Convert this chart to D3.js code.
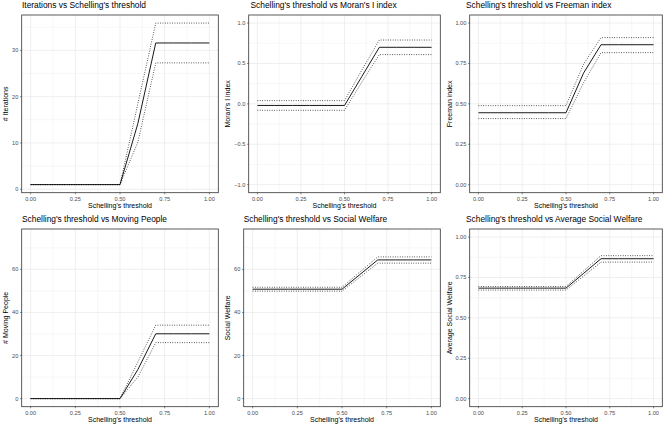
<!DOCTYPE html>
<html>
<head>
<meta charset="utf-8">
<script src="https://cdn.jsdelivr.net/npm/d3@7"></script>
<style>
  body { margin: 0; background: #fff; }
  svg { display: block; }
  text { font-family: "Liberation Sans", Arial, sans-serif; }
</style>
</head>
<body>
<svg id="chart" width="664" height="427"></svg>
<script>
const thresholds = [0, 0.1, 0.2, 0.3, 0.4, 0.5, 0.6, 0.7, 0.8, 0.9, 1.0];
const xTicks = [0, 0.25, 0.5, 0.75, 1];

const iterMean  = [1, 1, 1, 1, 1, 1, 14.2, 31.6, 31.6, 31.6, 31.6];
const iterUpper = [1, 1, 1, 1, 1, 1, 18.5, 35.9, 35.9, 35.9, 35.9];
const iterLower = [1, 1, 1, 1, 1, 1, 10.2, 27.3, 27.3, 27.3, 27.3];

const moranMean  = [-0.02, -0.02, -0.02, -0.02, -0.02, -0.02, 0.34, 0.70, 0.70, 0.70, 0.70];
const moranUpper = [0.04, 0.04, 0.04, 0.04, 0.04, 0.04, 0.42, 0.79, 0.79, 0.79, 0.79];
const moranLower = [-0.08, -0.08, -0.08, -0.08, -0.08, -0.08, 0.27, 0.61, 0.61, 0.61, 0.61];

const freemanMean  = [0.445, 0.445, 0.445, 0.445, 0.445, 0.445, 0.69, 0.866, 0.866, 0.866, 0.866];
const freemanUpper = [0.489, 0.489, 0.489, 0.489, 0.489, 0.489, 0.745, 0.91, 0.91, 0.91, 0.91];
const freemanLower = [0.409, 0.409, 0.409, 0.409, 0.409, 0.409, 0.63, 0.817, 0.817, 0.817, 0.817];

const movingMean  = [0, 0, 0, 0, 0, 0, 13.5, 30.1, 30.1, 30.1, 30.1];
const movingUpper = [0, 0, 0, 0, 0, 0, 17, 34.1, 34.1, 34.1, 34.1];
const movingLower = [0, 0, 0, 0, 0, 0, 10, 26, 26, 26, 26];

const welfareMean  = [50.8, 50.8, 50.8, 50.8, 50.8, 50.8, 57.6, 64.4, 64.4, 64.4, 64.4];
const welfareUpper = [51.7, 51.7, 51.7, 51.7, 51.7, 51.7, 58.8, 65.8, 65.8, 65.8, 65.8];
const welfareLower = [49.9, 49.9, 49.9, 49.9, 49.9, 49.9, 56.4, 62.9, 62.9, 62.9, 62.9];

const avgWelfareMean  = [0.684, 0.684, 0.684, 0.684, 0.684, 0.684, 0.775, 0.866, 0.866, 0.866, 0.866];
const avgWelfareUpper = [0.694, 0.694, 0.694, 0.694, 0.694, 0.694, 0.79, 0.885, 0.885, 0.885, 0.885];
const avgWelfareLower = [0.672, 0.672, 0.672, 0.672, 0.672, 0.672, 0.758, 0.845, 0.845, 0.845, 0.845];

const panels = [
  { title: "Iterations vs Schelling's threshold", yLabel: "# Iterations",
    series: [iterMean, iterUpper, iterLower], limits: null,
    yTicks: [0, 10, 20, 30], fmt: d3.format("d"),
    cellX: 0, left: 21.7, right: 218.3, row: 0, titleX: 22 },
  { title: "Schelling's threshold vs Moran's I index", yLabel: "Moran's I index",
    series: [moranMean, moranUpper, moranLower], limits: [-1, 1],
    yTicks: [-1, -0.5, 0, 0.5, 1], fmt: d => d3.format(".1f")(d).replace("-", "\u2212"),
    cellX: 222, left: 248.7, right: 440.3, row: 0, titleX: 250.5 },
  { title: "Schelling's threshold vs Freeman index", yLabel: "Freeman index",
    series: [freemanMean, freemanUpper, freemanLower], limits: [0, 1],
    yTicks: [0, 0.25, 0.5, 0.75, 1], fmt: d3.format(".2f"),
    cellX: 444, left: 469.7, right: 662.3, row: 0, titleX: 466 },
  { title: "Schelling's threshold vs Moving People", yLabel: "# Moving People",
    series: [movingMean, movingUpper, movingLower], limits: [0, 75],
    yTicks: [0, 20, 40, 60], fmt: d3.format("d"),
    cellX: 0, left: 21.7, right: 218.3, row: 1, titleX: 22 },
  { title: "Schelling's threshold vs Social Welfare", yLabel: "Social Welfare",
    series: [welfareMean, welfareUpper, welfareLower], limits: [0, 75],
    yTicks: [0, 20, 40, 60], fmt: d3.format("d"),
    cellX: 222, left: 243.7, right: 440.3, row: 1, titleX: 243.7 },
  { title: "Schelling's threshold vs Average Social Welfare", yLabel: "Average Social Welfare",
    series: [avgWelfareMean, avgWelfareUpper, avgWelfareLower], limits: [0, 1],
    yTicks: [0, 0.25, 0.5, 0.75, 1], fmt: d3.format(".2f"),
    cellX: 444, left: 469.7, right: 662.3, row: 1, titleX: 466 }
];

const ROWS = [{ top: 15, bottom: 192.7, rowY: 0 }, { top: 229, bottom: 406.7, rowY: 214 }];

function expand(lo, hi) {
  const pad = (hi - lo) * 0.05;
  return [lo - pad, hi + pad];
}

function minorBreaks(majors, domain) {
  const step = majors[1] - majors[0];
  const out = [];
  for (let i = -1; i < majors.length; i++) {
    const m = majors[0] + (i + 0.5) * step;
    if (m >= domain[0] && m <= domain[1]) out.push(m);
  }
  return out;
}

function drawPanel(svg, p) {
  const r = ROWS[p.row];
  const g = svg.append("g");

  const x = d3.scaleLinear().domain(expand(0, 1)).range([p.left, p.right]);
  let lims = p.limits;
  if (!lims) {
    const all = p.series.flat();
    lims = [d3.min(all), d3.max(all)];
  }
  const y = d3.scaleLinear().domain(expand(lims[0], lims[1])).range([r.bottom, r.top]);

  // grid: minor first, then major
  const xMinor = minorBreaks(xTicks, x.domain());
  const yMinor = minorBreaks(p.yTicks, y.domain());
  g.selectAll(".xminor").data(xMinor).join("line")
    .attr("x1", d => x(d)).attr("x2", d => x(d))
    .attr("y1", r.top).attr("y2", r.bottom)
    .attr("stroke", "#EBEBEB").attr("stroke-width", 0.4);
  g.selectAll(".yminor").data(yMinor).join("line")
    .attr("y1", d => y(d)).attr("y2", d => y(d))
    .attr("x1", p.left).attr("x2", p.right)
    .attr("stroke", "#EBEBEB").attr("stroke-width", 0.4);
  g.selectAll(".xmajor").data(xTicks).join("line")
    .attr("x1", d => x(d)).attr("x2", d => x(d))
    .attr("y1", r.top).attr("y2", r.bottom)
    .attr("stroke", "#EBEBEB").attr("stroke-width", 0.8);
  g.selectAll(".ymajor").data(p.yTicks).join("line")
    .attr("y1", d => y(d)).attr("y2", d => y(d))
    .attr("x1", p.left).attr("x2", p.right)
    .attr("stroke", "#EBEBEB").attr("stroke-width", 0.8);

  const line = d3.line().x((d, i) => x(thresholds[i])).y(d => y(d));

  // upper and lower bounds dotted, mean solid
  p.series.slice(1).forEach(s => {
    g.append("path").attr("d", line(s))
      .attr("fill", "none").attr("stroke", "#000").attr("stroke-width", 0.8)
      .attr("stroke-dasharray", "0.8 1.6");
  });
  g.append("path").attr("d", line(p.series[0]))
    .attr("fill", "none").attr("stroke", "#000").attr("stroke-width", 0.9);

  g.append("rect")
    .attr("x", p.left).attr("y", r.top)
    .attr("width", p.right - p.left).attr("height", r.bottom - r.top)
    .attr("fill", "none").attr("stroke", "#333").attr("stroke-width", 0.8);

  // ticks
  g.selectAll(".xt").data(xTicks).join("line")
    .attr("x1", d => x(d)).attr("x2", d => x(d))
    .attr("y1", r.bottom).attr("y2", r.bottom + 1.6)
    .attr("stroke", "#333").attr("stroke-width", 0.6);
  g.selectAll(".yt").data(p.yTicks).join("line")
    .attr("y1", d => y(d)).attr("y2", d => y(d))
    .attr("x1", p.left - 1.6).attr("x2", p.left)
    .attr("stroke", "#333").attr("stroke-width", 0.6);

  g.selectAll(".xl").data(xTicks).join("text")
    .attr("x", d => x(d)).attr("y", r.bottom + 8.3)
    .attr("text-anchor", "middle").attr("font-size", 5.6).attr("fill", "#4D4D4D")
    .text(d3.format(".2f"));
  g.selectAll(".yl").data(p.yTicks).join("text")
    .attr("x", p.left - 3.4).attr("y", d => y(d)).attr("dy", "0.35em")
    .attr("text-anchor", "end").attr("font-size", 5.6).attr("fill", "#4D4D4D")
    .text(p.fmt);

  g.append("text")
    .attr("x", (p.left + p.right) / 2).attr("y", r.bottom + 15)
    .attr("text-anchor", "middle").attr("font-size", 7).attr("fill", "#000")
    .text("Schelling's threshold");

  g.append("text")
    .attr("transform", `translate(${p.cellX + 8.3},${(r.top + r.bottom) / 2}) rotate(-90)`)
    .attr("text-anchor", "middle").attr("font-size", 7).attr("fill", "#000")
    .text(p.yLabel);

  g.append("text")
    .attr("x", p.titleX).attr("y", r.rowY + 8)
    .attr("font-size", 8.4).attr("fill", "#000")
    .text(p.title);
}

const svg = d3.select("#chart");
panels.forEach(p => drawPanel(svg, p));
</script>
</body>
</html>
